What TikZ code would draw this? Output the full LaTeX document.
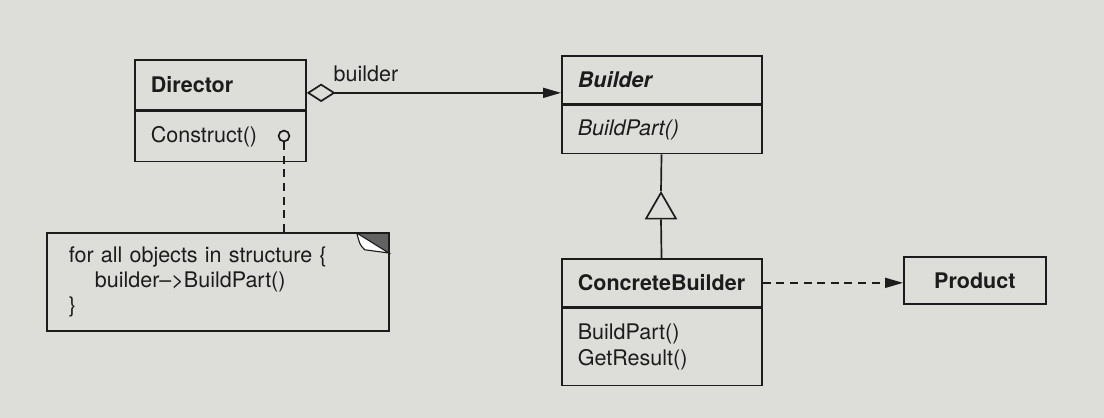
\documentclass[tikz,border=0pt]{standalone}
\usepackage{fontspec}
\setmainfont{TeX Gyre Heros}
\usetikzlibrary{positioning,arrows.meta,shapes.geometric}
\definecolor{paper}{RGB}{221,221,218}
\definecolor{ink}{RGB}{28,28,28}
\newcommand\umlsize{\fontsize{15.3}{18}\selectfont}
\begin{document}
\begin{tikzpicture}[x=0.025cm, y=-0.025cm, color=ink, line width=1.2pt, font=\umlsize,
  box/.style={draw, inner xsep=0.4cm, inner ysep=0pt, align=left, text width=#1},
  hook/.style={circle, draw, inner sep=0pt, minimum size=0.27cm},
  tri/.style={regular polygon, regular polygon sides=3, draw, inner sep=0pt, minimum size=0.865cm},
  note/.style={inner xsep=0.525cm, inner ysep=0pt, align=left, text width=7.45cm, minimum height=2.4cm},
  dep/.style={dash pattern=on 0.2cm off 0.14cm},
  tip/.style={-{Triangle[length=0.45cm, width=0.25cm]}}]
\fill[paper] (0,0) rectangle (1104,418);
% Director
\node[box=3.475cm, minimum height=1.25cm, anchor=north west, font=\umlsize\bfseries] (dir) at (134,59) {Director};
\node[box=3.475cm, minimum height=1.25cm, below=0pt of dir] (dirops) {Construct()};
\node[hook] (hk) at (284,136) {};
% Builder
\node[box=4.2cm, minimum height=1.2cm, anchor=north west, font=\umlsize\bfseries\itshape] (bld) at (561,55) {Builder};
\node[box=4.2cm, minimum height=1.2cm, below=0pt of bld, font=\umlsize\itshape] (bldops) {BuildPart()};
% ConcreteBuilder
\node[box=4.2cm, minimum height=1.2cm, anchor=north west, font=\umlsize\bfseries] (cbld) at (561,258) {ConcreteBuilder};
\node[box=4.2cm, minimum height=1.925cm, below=0pt of cbld] (cbldops) {BuildPart()\\GetResult()};
% Product
\node[draw, minimum width=3.55cm, minimum height=1.175cm, anchor=north west, font=\umlsize\bfseries] (prod) at (903,256) {Product};
% note
\node[note, anchor=north west] (nt) at (47,233) {for all objects in structure \{\\\hspace*{0.65cm}builder\textendash>BuildPart()\\\}};
\fill[gray!70!ink] ([xshift=-0.8cm]nt.north east) -- (nt.north east) -- ([yshift=-0.5cm]nt.north east) -- cycle;
\filldraw[fill=white, line width=0.8pt] ([xshift=-0.8cm]nt.north east) .. controls ([xshift=-0.72cm,yshift=-0.3cm]nt.north east) .. ([xshift=-0.6cm,yshift=-0.42cm]nt.north east) -- ([yshift=-0.5cm]nt.north east) -- cycle;
\draw[] (nt.north west) rectangle (nt.south east);
% connectors
\node (lbl) at (366,74) {builder};
\draw[{Diamond[open, length=0.72cm, width=0.46cm]}-{Triangle[length=0.45cm, width=0.25cm]}] ([yshift=-0.2cm]dir.east) -- ([yshift=-0.2cm]dir.east -| bld.west);
\node[tri] (inh) at (661,210) {};
\draw[] (bldops) -- (inh.corner 1);
\draw[] (inh.side 2) -- (cbld);
\draw[dep, tip] (cbld.east) -- (cbld.east -| prod.west);
\draw[dep] (hk.south) -- (hk.south |- nt.north);
\end{tikzpicture}
\end{document}
